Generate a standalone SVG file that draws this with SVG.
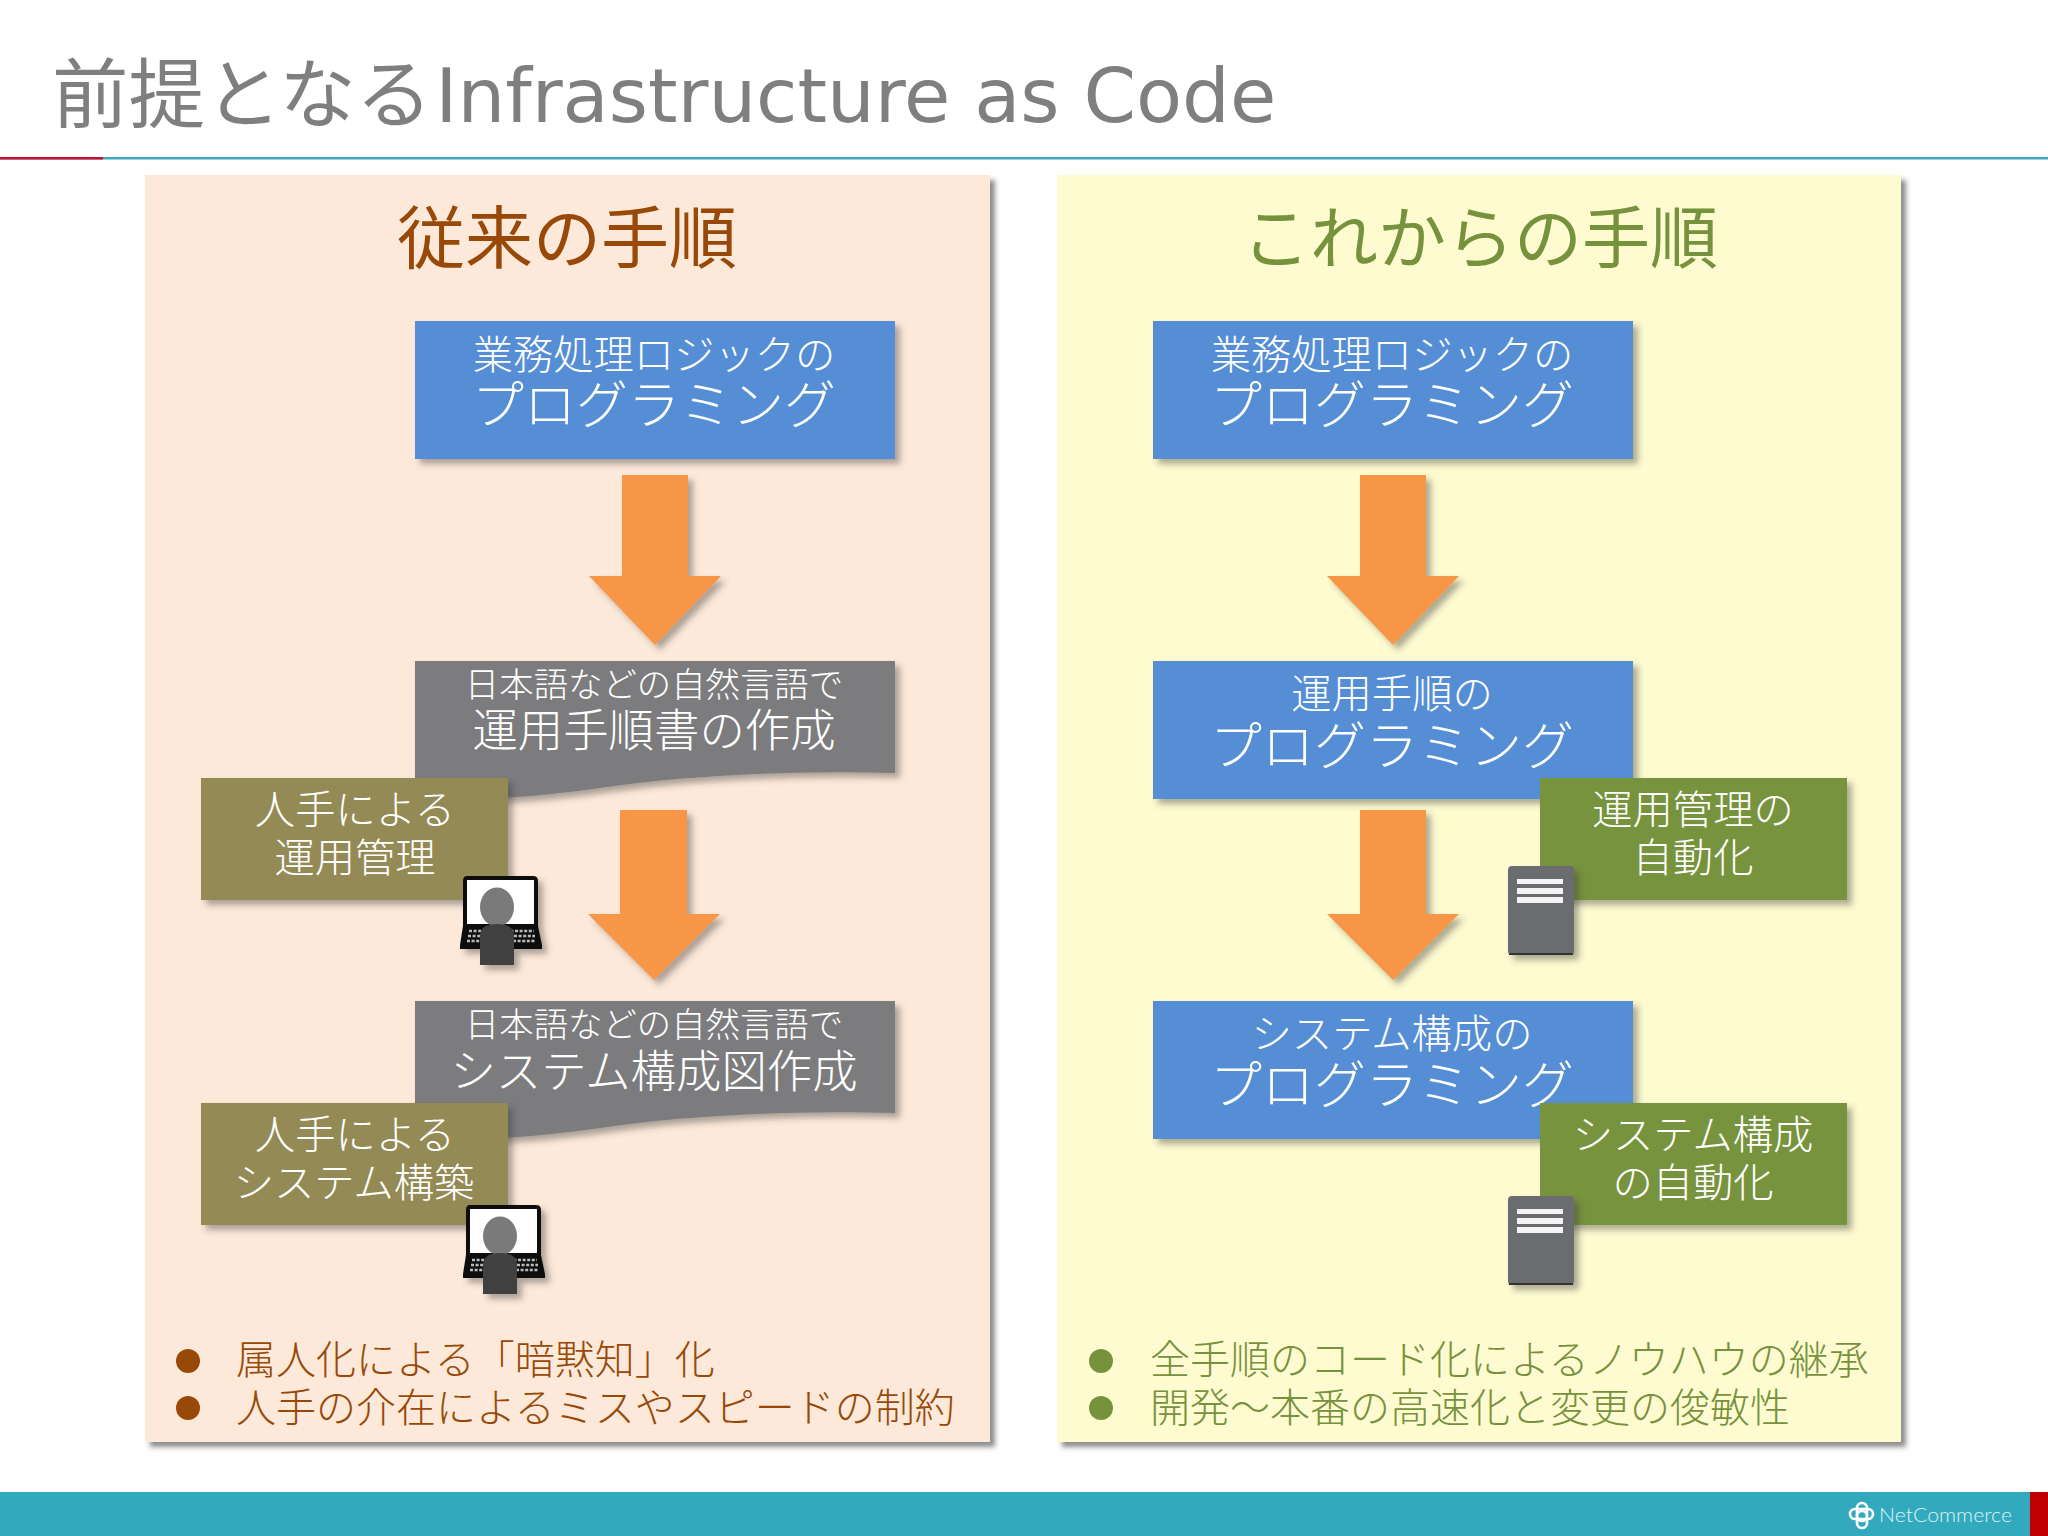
<svg xmlns="http://www.w3.org/2000/svg" xmlns:xlink="http://www.w3.org/1999/xlink" width="2048" height="1536" viewBox="0 0 2048 1536">
<style>
text{font-family:"Noto Sans CJK JP","Noto Sans",sans-serif;font-weight:300}
.w{fill:#fff;text-anchor:middle}
.s33{font-size:34.4px}.s40{font-size:40.3px}.s45{font-size:45.4px}.s51{font-size:52px}.s68{font-size:68px;text-anchor:middle;font-weight:400}
.n40{font-size:40px}
.br{fill:#984807}.gr{fill:#76923c}
.blue{fill:#558ed5}.gray{fill:#7c7c7e}.olive{fill:#948a54}.green{fill:#77933c}.orange{fill:#f79646}
.sh{filter:url(#shadow)}
.psh{filter:url(#pshadow)}
</style>
<defs>
<filter id="shadow" x="-20%" y="-20%" width="140%" height="140%"><feDropShadow dx="5" dy="5" stdDeviation="3" flood-color="#3a3a3a" flood-opacity="0.42"/></filter>
<filter id="pshadow" x="-5%" y="-5%" width="110%" height="110%"><feDropShadow dx="5" dy="5" stdDeviation="2.5" flood-color="#333" flood-opacity="0.55"/></filter>
<g id="laptop">
<path d="M467 876H533Q538 876 538 881V926L542 945V949H460V945L463 926V881Q463 876 467 876Z" fill="#111"/>
<rect x="467" y="880" width="67" height="44" fill="#fff"/>
<path d="M469 931H534M468 936H535M467 941H536" stroke="#bbb" stroke-width="2.4" stroke-dasharray="3 1.6" fill="none"/>
<ellipse cx="497" cy="907" rx="17" ry="19.5" fill="#7a7a7a"/>
<path d="M480 965V936Q480 924 497 924Q514 924 514 936V965Z" fill="#404040"/>
</g>
<g id="server">
<rect x="1508" y="866" width="66" height="89" rx="4" fill="#6b6c70"/>
<path d="M1509 954H1573" stroke="#333" stroke-width="2"/>
<rect x="1517" y="879" width="46" height="5" fill="#f4f4f4"/>
<rect x="1517" y="888" width="46" height="6" fill="#f4f4f4"/>
<rect x="1517" y="897" width="46" height="6" fill="#f4f4f4"/>
</g>
<path id="docshape" d="M415 661H895V773C790 770 680 776 600 788C530 798 470 802 415 795Z"/>
<path id="arrow1" d="M622 475H688V576H721L655 645L589 576H622Z"/>
<path id="arrow2" d="M620 810H687V914H720L654 980L588 914H620Z"/>
<path id="arrow3" d="M1360 475H1426V576H1459L1393 645L1327 576H1360Z"/>
<path id="arrow4" d="M1360 810H1426V914H1459L1393 980L1327 914H1360Z"/>
</defs>

<rect width="2048" height="1536" fill="#fff"/>
<g id="title"><text x="52" y="122" font-size="76.5" fill="#7f7f7f" style="font-weight:400">前提となる<tspan dx="3" font-family="'DejaVu Sans'" font-size="74" textLength="841" lengthAdjust="spacingAndGlyphs">Infrastructure as Code</tspan></text></g>
<rect x="0" y="157" width="2048" height="2.5" fill="#3aa9bc"/>
<rect x="0" y="157" width="103" height="2.5" fill="#c8102e"/>

<g id="panel-left">
<rect class="psh" x="145" y="175" width="845" height="1267" fill="#fde9d9"/>
<text class="s68 br" x="567" y="263">従来の手順</text>
</g>
<g id="panel-right">
<rect class="psh" x="1057" y="175" width="844" height="1267" fill="#fefbd0"/>
<text class="s68 gr" x="1480" y="263">これからの手順</text>
</g>

<g id="connectors">
<use href="#arrow1" class="orange sh"/>
<use href="#arrow2" class="orange sh"/>
<use href="#arrow3" class="orange sh"/>
<use href="#arrow4" class="orange sh"/>
</g>

<g id="left-step1">
<rect class="blue sh" x="415" y="321" width="480" height="138"/>
<text class="w s40" x="654" y="369">業務処理ロジックの</text>
<text class="w s51" x="654" y="424">プログラミング</text>
</g>
<g id="left-step2">
<use href="#docshape" class="gray sh"/>
<text class="w s33" x="654" y="697">日本語などの自然言語で</text>
<text class="w s45" x="654" y="747">運用手順書の作成</text>
</g>
<g id="left-manual1">
<rect class="olive sh" x="201" y="778" width="307" height="122"/>
<text class="w s40" x="355" y="824">人手による</text>
<text class="w s40" x="355" y="872">運用管理</text>
<use href="#laptop" class="sh"/>
</g>
<g id="left-step3">
<use href="#docshape" y="340" class="gray sh"/>
<text class="w s33" x="654" y="1037">日本語などの自然言語で</text>
<text class="w s45" x="654" y="1088">システム構成図作成</text>
</g>
<g id="left-manual2">
<rect class="olive sh" x="201" y="1103" width="307" height="122"/>
<text class="w s40" x="355" y="1149">人手による</text>
<text class="w s40" x="354" y="1197">システム構築</text>
<use href="#laptop" x="3" y="329" class="sh"/>
</g>
<g id="left-notes" class="br">
<circle cx="188" cy="1361" r="12"/><circle cx="188" cy="1408" r="12"/>
<text class="n40" x="236" y="1374">属人化による「暗黙知」化</text>
<text class="n40" x="236" y="1422">人手の介在によるミスやスピードの制約</text>
</g>

<g id="right-step1">
<rect class="blue sh" x="1153" y="321" width="480" height="138"/>
<text class="w s40" x="1392" y="369">業務処理ロジックの</text>
<text class="w s51" x="1392" y="424">プログラミング</text>
</g>
<g id="right-step2">
<rect class="blue sh" x="1153" y="661" width="480" height="138"/>
<text class="w s40" x="1392" y="708">運用手順の</text>
<text class="w s51" x="1392" y="765">プログラミング</text>
</g>
<g id="right-auto1">
<rect class="green sh" x="1540" y="778" width="307" height="122"/>
<text class="w s40" x="1693" y="824">運用管理の</text>
<text class="w s40" x="1693" y="872">自動化</text>
<use href="#server" class="sh"/>
</g>
<g id="right-step3">
<rect class="blue sh" x="1153" y="1001" width="480" height="138"/>
<text class="w s40" x="1392" y="1048">システム構成の</text>
<text class="w s51" x="1392" y="1104">プログラミング</text>
</g>
<g id="right-auto2">
<rect class="green sh" x="1540" y="1103" width="307" height="122"/>
<text class="w s40" x="1693" y="1149">システム構成</text>
<text class="w s40" x="1693" y="1197">の自動化</text>
<use href="#server" y="330" class="sh"/>
</g>
<g id="right-notes" class="gr">
<circle cx="1101" cy="1361" r="12"/><circle cx="1101" cy="1408" r="12"/>
<text class="n40" x="1150" y="1374">全手順のコード化によるノウハウの継承</text>
<text class="n40" x="1150" y="1422">開発～本番の高速化と変更の俊敏性</text>
</g>

<g id="footer">
<rect x="0" y="1492" width="2048" height="44" fill="#33a9bd"/>
<rect x="2030" y="1492" width="18" height="44" fill="#c00000"/>
<g fill="none" stroke="#fff" stroke-width="2.6">
<rect x="1857" y="1503" width="10" height="18" rx="5"/>
<rect x="1850" y="1509" width="23" height="10" rx="5"/>
<rect x="1857" y="1511" width="10" height="17" rx="5"/>
</g>
<text x="1879" y="1522" font-size="20" fill="#dff2f5" textLength="133" lengthAdjust="spacingAndGlyphs" style="font-family:Lato,sans-serif;font-weight:300">NetCommerce</text>
</g>
</svg>
